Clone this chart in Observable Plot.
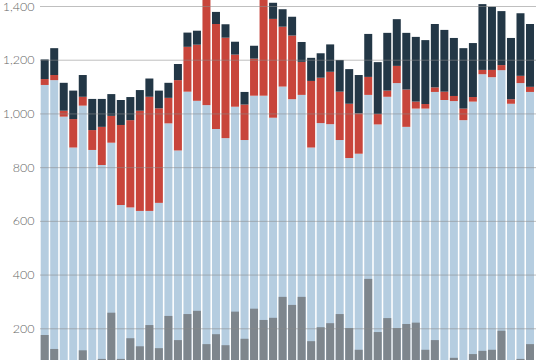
<!DOCTYPE html>
<html>
<head>
<meta charset="utf-8">
<script src="https://cdn.jsdelivr.net/npm/d3@7"></script>
<script src="https://cdn.jsdelivr.net/npm/@observablehq/plot@0.6"></script>
<style>
  html, body { margin: 0; padding: 0; background: #fff; }
  #chart { width: 540px; height: 360px; overflow: hidden; }
  #chart svg { overflow: hidden; }
</style>
</head>
<body>
<div id="chart"></div>
<script>
const baseValues = [1106,1124,988,873,1029,864,808,891,659,650,637,637,667,963,862,1081,1047,1031,942,908,1025,901,1066,1066,984,1100,1053,1069,873,964,960,901,834,850,1069,959,1062,1113,950,1018,1018,1080,1050,1046,975,1044,1146,1135,1161,1036,1113,1080];
const midValues = [22,19,22,106,33,74,142,100,298,325,373,425,352,95,262,167,209,420,391,374,194,132,138,400,368,223,237,123,248,169,195,180,202,150,67,39,23,64,139,26,17,17,31,19,43,17,16,27,19,17,27,19];
const topValues = [73,100,104,106,81,116,104,81,93,86,77,68,66,56,60,53,52,40,45,50,48,47,48,40,60,65,70,74,86,91,102,118,129,143,160,193,215,174,211,241,238,236,230,216,225,201,245,235,201,228,233,234];
const overlayValues = [175,123,60,60,118,60,86,258,86,163,133,212,126,246,156,253,265,141,178,137,262,161,273,231,239,317,287,317,152,204,219,253,201,120,384,186,238,201,216,221,120,156,60,90,60,104,116,120,191,60,86,141];
const yTicks = [200,400,600,800,1000,1200,1400];
const seriesNames = ["base","mid","top"];
const seriesColors = ["#b5cde0","#c8453b","#233746"];

const idx = d3.range(baseValues.length);
const stacked = [];
idx.forEach(i => {
  stacked.push({i, s: "base", v: baseValues[i]});
  stacked.push({i, s: "mid", v: midValues[i]});
  stacked.push({i, s: "top", v: topValues[i]});
});
const overlayRows = idx.map(i => ({i, v: overlayValues[i]}));

const plot = Plot.plot({
  width: 540,
  height: 360,
  marginLeft: 40,
  marginRight: 4,
  marginTop: 0,
  marginBottom: 0,
  style: {fontFamily: "Lato, 'Open Sans', sans-serif", background: "#fff", overflow: "hidden"},
  x: {domain: idx, range: [40.7, 534], paddingInner: 0.16, paddingOuter: 0, round: false, axis: null},
  y: {domain: [0, 1400], range: [382, 6], axis: null},
  color: {type: "ordinal", domain: seriesNames, range: seriesColors},
  marks: [
    Plot.barY(stacked, {x: "i", y: "v", fill: "s", z: "s", order: seriesNames}),
    Plot.barY(overlayRows, {x: "i", y: "v", fill: "#7e868d"}),
    Plot.ruleY(yTicks, {stroke: "#8a8a8a", strokeOpacity: 0.55, strokeWidth: 1}),
    Plot.axisY(yTicks, {
      anchor: "left",
      tickSize: 0,
      tickPadding: 6,
      tickFormat: d3.format(","),
      fontSize: 12.5,
      fontWeight: 300,
      fill: "#666",
      label: null
    })
  ]
});
document.getElementById("chart").appendChild(plot);
</script>
</body>
</html>
